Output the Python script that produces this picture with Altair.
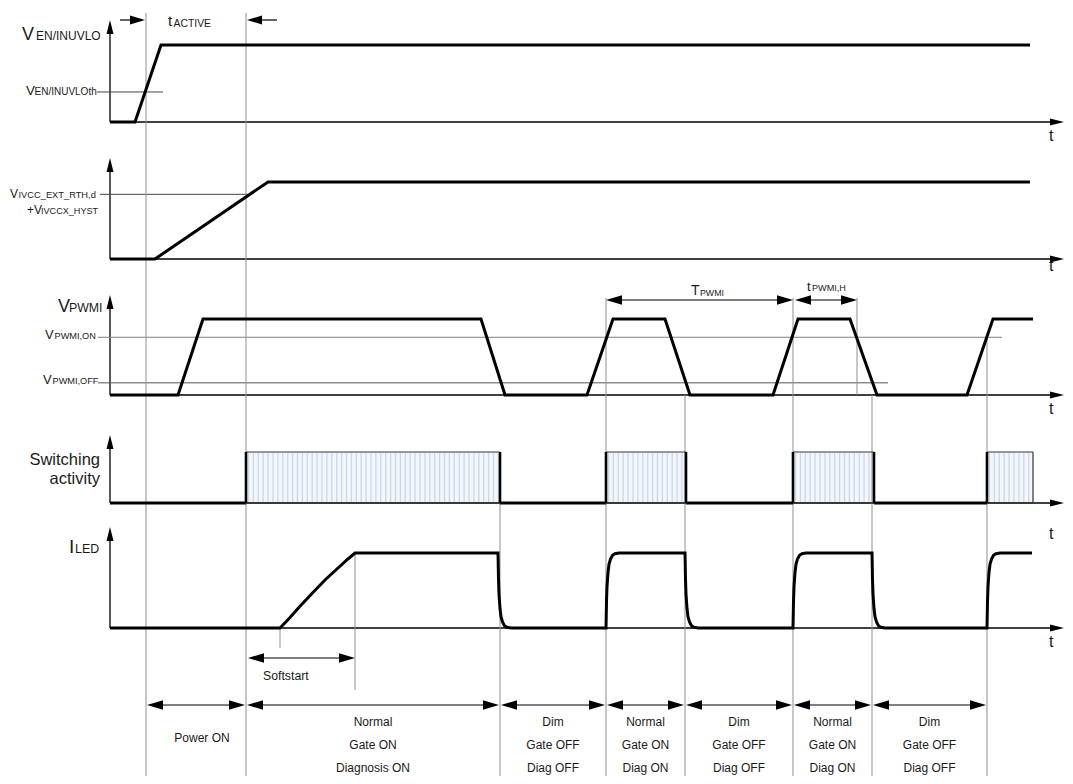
import altair as alt
import pandas as pd
import numpy as np

# ---------------- data: diagram time units and normalised signal levels ----------------
EN_T = [110, 135, 161, 1030]
EN_V = [0, 0, 1, 1]
EN_TH = 0.39

VCC_T = [110, 155, 268, 1030]
VCC_V = [0, 0, 1, 1]
VCC_TH = 0.84

PWM_T = [110, 178, 203, 481, 505, 587, 613, 665, 690, 773, 798, 850, 877, 967, 993, 1033]
PWM_V = [0, 0, 1, 1, 0, 0, 1, 1, 0, 0, 1, 1, 0, 0, 1, 1]
PWM_ON = 0.76
PWM_OFF = 0.16

SW_START = [246, 606, 793, 987]
SW_END = [500, 686, 874, 1033]

LED_RAMP_T = [280, 290, 300, 312, 325, 338, 348, 355]
LED_RAMP_V = [0, 0.14, 0.29, 0.46, 0.64, 0.80, 0.92, 1.0]
LED_FALL = [498, 685, 872]
LED_RISE = [606, 793, 987]
LED_END = 1032
EDGE_DT = [0, 0.5, 1, 2, 3, 4.5, 6.5, 9, 13]
EDGE_V = [0, 0.35, 0.55, 0.74, 0.85, 0.92, 0.97, 0.99, 1.0]

T_ACTIVE = [146, 246]
T_PWMI = [606, 793]
T_PWMI_H = [795, 857]
SOFTSTART = [248, 355]
PHASE_EDGES = [146, 246, 500, 606, 685, 793, 872, 987]
PHASE_LABELS = [
    ["Power ON"],
    ["Normal", "Gate ON", "Diagnosis ON"],
    ["Dim", "Gate OFF", "Diag OFF"],
    ["Normal", "Gate ON", "Diag ON"],
    ["Dim", "Gate OFF", "Diag OFF"],
    ["Normal", "Gate ON", "Diag ON"],
    ["Dim", "Gate OFF", "Diag OFF"],
]

# ---------------- layout ----------------
BASE = [122, 259, 395, 503, 628]   # baseline of each panel (diagram units, downwards)
SPAN = [77, 77, 76, 51, 75]        # height of level 1 in each panel
AXTOP = [20, 158, 295, 435, 527]   # tip of each vertical axis arrow
T0 = 110
TEND = 1064
FONT = "Liberation Sans"
INK = "#1a1a1a"
GRID = "#8f8f8f"


def py(p, v):
    return BASE[p] - v * SPAN[p]


lines, segs, heads, texts, rects = [], [], [], [], []


def poly(name, pts, color="black", w=3.0):
    for i, (x, y) in enumerate(pts):
        lines.append(dict(x=x, y=y, g=name, i=i, c=color, w=w))


def seg(x, y, x2, y2, c=GRID, w=1.0):
    segs.append(dict(x=x, y=y, x2=x2, y2=y2, c=c, w=w))


def head(x, y, d, s=256):
    heads.append(dict(x=x, y=y, dirn=d, s=s))


def txt(x, y, t, fs, align="left"):
    texts.append(dict(x=x, y=y, text=t, fs=fs, al=align))


# axes
for p in range(5):
    seg(T0, BASE[p], T0, AXTOP[p] + 4, "black", 1.3)
    head(T0, AXTOP[p], "up", 196)
    seg(T0, BASE[p], TEND - 4, BASE[p], "black", 1.3)
    head(TEND, BASE[p], "rightax", 196)

# thresholds
seg(97, py(0, EN_TH), 163, py(0, EN_TH), "#444444", 1.0)
seg(100, py(1, VCC_TH), 248, py(1, VCC_TH), "#444444", 1.0)
seg(98, py(2, PWM_ON), 1002, py(2, PWM_ON), "#808080", 1.2)
seg(98, py(2, PWM_OFF), 888, py(2, PWM_OFF), "#555555", 1.0)

# guide verticals
BOTTOM = 782
seg(PHASE_EDGES[0], 13, PHASE_EDGES[0], BOTTOM)
seg(PHASE_EDGES[1], 13, PHASE_EDGES[1], BOTTOM)
seg(PHASE_EDGES[2], py(3, 1), PHASE_EDGES[2], BOTTOM)
seg(T_PWMI[0], 298, T_PWMI[0], BOTTOM)
seg(PHASE_EDGES[4], py(2, 0), PHASE_EDGES[4], BOTTOM)
seg(T_PWMI[1], 298, T_PWMI[1], BOTTOM)
seg(T_PWMI_H[1], 298, T_PWMI_H[1], py(2, 0))
seg(PHASE_EDGES[6], py(2, 0), PHASE_EDGES[6], BOTTOM)
seg(PHASE_EDGES[7], py(2, PWM_ON), PHASE_EDGES[7], BOTTOM)
seg(LED_RAMP_T[0], py(4, 0), LED_RAMP_T[0], 648)
seg(LED_RAMP_T[-1], py(4, 1), LED_RAMP_T[-1], 690)

# signals
poly("en", [(t, py(0, v)) for t, v in zip(EN_T, EN_V)])
poly("vcc", [(t, py(1, v)) for t, v in zip(VCC_T, VCC_V)])
poly("pwm", [(t, py(2, v)) for t, v in zip(PWM_T, PWM_V)])

led = [(T0, 0)] + list(zip(LED_RAMP_T, LED_RAMP_V))
events = sorted([(f, "fall") for f in LED_FALL] + [(r, "rise") for r in LED_RISE])
for t, kind in events:
    for dt, v in zip(EDGE_DT, EDGE_V):
        led.append((t + dt, 1 - v if kind == "fall" else v))
led.append((LED_END, 1))
poly("led", [(t, py(4, v)) for t, v in led])

# switching activity
gaps = [(T0, SW_START[0])] + list(zip(SW_END[:-1], SW_START[1:]))
for k, (a, b) in enumerate(gaps):
    poly(f"swb{k}", [(a, py(3, 0)), (b, py(3, 0))])
for k, (s, e) in enumerate(zip(SW_START, SW_END)):
    rects.append(dict(x=s, x2=e, y=py(3, 1), y2=py(3, 0)))
    for xs in np.arange(s + 2.5, e - 1, 4.9):
        seg(xs, py(3, 1) + 1, xs, py(3, 0) - 1, "#ccd8ea", 1.3)
    seg(s, py(3, 1), e, py(3, 1), "#333333", 1.2)
    seg(s, py(3, 0), e, py(3, 0), "#333333", 1.2)
    poly(f"swl{k}", [(s, py(3, 0)), (s, py(3, 1))], w=2.6)
    if e < SW_END[-1]:
        poly(f"swr{k}", [(e, py(3, 1)), (e, py(3, 0))], w=2.6)
    else:
        seg(e, py(3, 1), e, py(3, 0), "#333333", 1.2)

# dimension arrows
seg(120, 20, T_ACTIVE[0] - 4, 20, "black", 1.2)
head(T_ACTIVE[0] - 1, 20, "right", 225)
seg(T_ACTIVE[1] + 5, 20, 277, 20, "black", 1.2)
head(T_ACTIVE[1] + 1, 20, "left", 225)

for a, b, yv in [(T_PWMI[0], T_PWMI[1], 300), (T_PWMI_H[0], T_PWMI_H[1], 300),
                 (SOFTSTART[0], SOFTSTART[1], 658)]:
    seg(a + 5, yv, b - 5, yv, "black", 1.2)
    head(a, yv, "left")
    head(b, yv, "right")

PHASE_Y = 705
for a, b in zip(PHASE_EDGES[:-1], PHASE_EDGES[1:]):
    seg(a + 5, PHASE_Y, b - 5, PHASE_Y, "black", 1.2)
    head(a + 1, PHASE_Y, "left")
    head(b - 1, PHASE_Y, "right")

# labels
txt(22, 40, "V", 18)
txt(36, 40, "EN/INUVLO", 12)
txt(26, 95, "V", 13.5)
txt(34.5, 95, "EN/INUVLOth", 10)
txt(10, 198, "V", 12)
txt(18.5, 198, "IVCC_EXT_RTH,d", 9.3)
txt(27, 214, "+V", 12)
txt(41, 214, "IVCCX_HYST", 9.1)
txt(58, 312, "V", 18)
txt(69, 312, "PWMI", 12.3)
txt(45, 339, "V", 13)
txt(54.5, 339, "PWMI,ON", 9.2)
txt(43, 384, "V", 13)
txt(52.5, 384, "PWMI,OFF", 9.2)
txt(100, 465, "Switching", 16.5, "right")
txt(100, 484, "activity", 16.5, "right")
txt(69, 553, "I", 19)
txt(75, 553, "LED", 12.4)
for yb in [141, 271, 414, 539, 647]:
    txt(1049, yb, "t", 16)
txt(168, 26, "t", 15)
txt(173.5, 27, "ACTIVE", 10.4)
txt(691, 295, "T", 14)
txt(700, 296, "PWMI", 8.8)
txt(807, 291, "t", 13)
txt(812, 291, "PWMI,H", 9.1)
txt(263, 680, "Softstart", 12.3)

for (a, b), lab in zip(zip(PHASE_EDGES[:-1], PHASE_EDGES[1:]), PHASE_LABELS):
    cx = (a + b) / 2
    if len(lab) == 1:
        txt(cx + 6, 742, lab[0], 12, "center")
    else:
        for t, yb in zip(lab, [726, 749, 772]):
            txt(cx, yb, t, 12, "center")

# ---------------- chart ----------------
XS = alt.Scale(domain=[8, 1065], nice=False, zero=False)
YS = alt.Scale(domain=[8, 776], nice=False, zero=False, reverse=True)
X = alt.X("x:Q", scale=XS, axis=None)
Y = alt.Y("y:Q", scale=YS, axis=None)

rect_layer = alt.Chart(pd.DataFrame(rects)).mark_rect(color="#f3f6fa").encode(
    x=X, x2="x2:Q", y=Y, y2="y2:Q")

seg_layer = alt.Chart(pd.DataFrame(segs)).mark_rule().encode(
    x=X, y=Y, x2="x2:Q", y2="y2:Q",
    color=alt.Color("c:N", scale=None),
    size=alt.Size("w:Q", scale=None))

line_layer = alt.Chart(pd.DataFrame(lines)).mark_line(strokeJoin="miter").encode(
    x=X, y=Y, detail="g:N", order="i:Q",
    color=alt.Color("c:N", scale=None),
    size=alt.Size("w:Q", scale=None))

PATHS = {
    "up": "M0,0L0.5,2L-0.5,2Z",
    "rightax": "M0,0L-2,-0.5L-2,0.5Z",
    "right": "M0,0L-2,-0.6L-2,0.6Z",
    "left": "M0,0L2,-0.6L2,0.6Z",
}
hdf = pd.DataFrame(heads)
head_layers = [
    alt.Chart(hdf[hdf["dirn"] == d]).mark_point(shape=path, filled=True, color="black",
                                                opacity=1, strokeWidth=0).encode(
        x=X, y=Y, size=alt.Size("s:Q", scale=None))
    for d, path in PATHS.items()
]

tdf = pd.DataFrame(texts)
text_layers = [
    alt.Chart(tdf[tdf["al"] == al]).mark_text(align=al, baseline="alphabetic", font=FONT,
                                              color=INK).encode(
        x=X, y=Y, text="text:N", size=alt.Size("fs:Q", scale=None))
    for al in ["left", "right", "center"]
]

chart = alt.layer(rect_layer, seg_layer, line_layer, *head_layers, *text_layers).properties(
    width=1057, height=768, padding=0, autosize=alt.AutoSizeParams(type="none"),
    background="white",
).configure_view(stroke=None)

chart.save("out.html", embed_options={"renderer": "svg", "actions": False})
